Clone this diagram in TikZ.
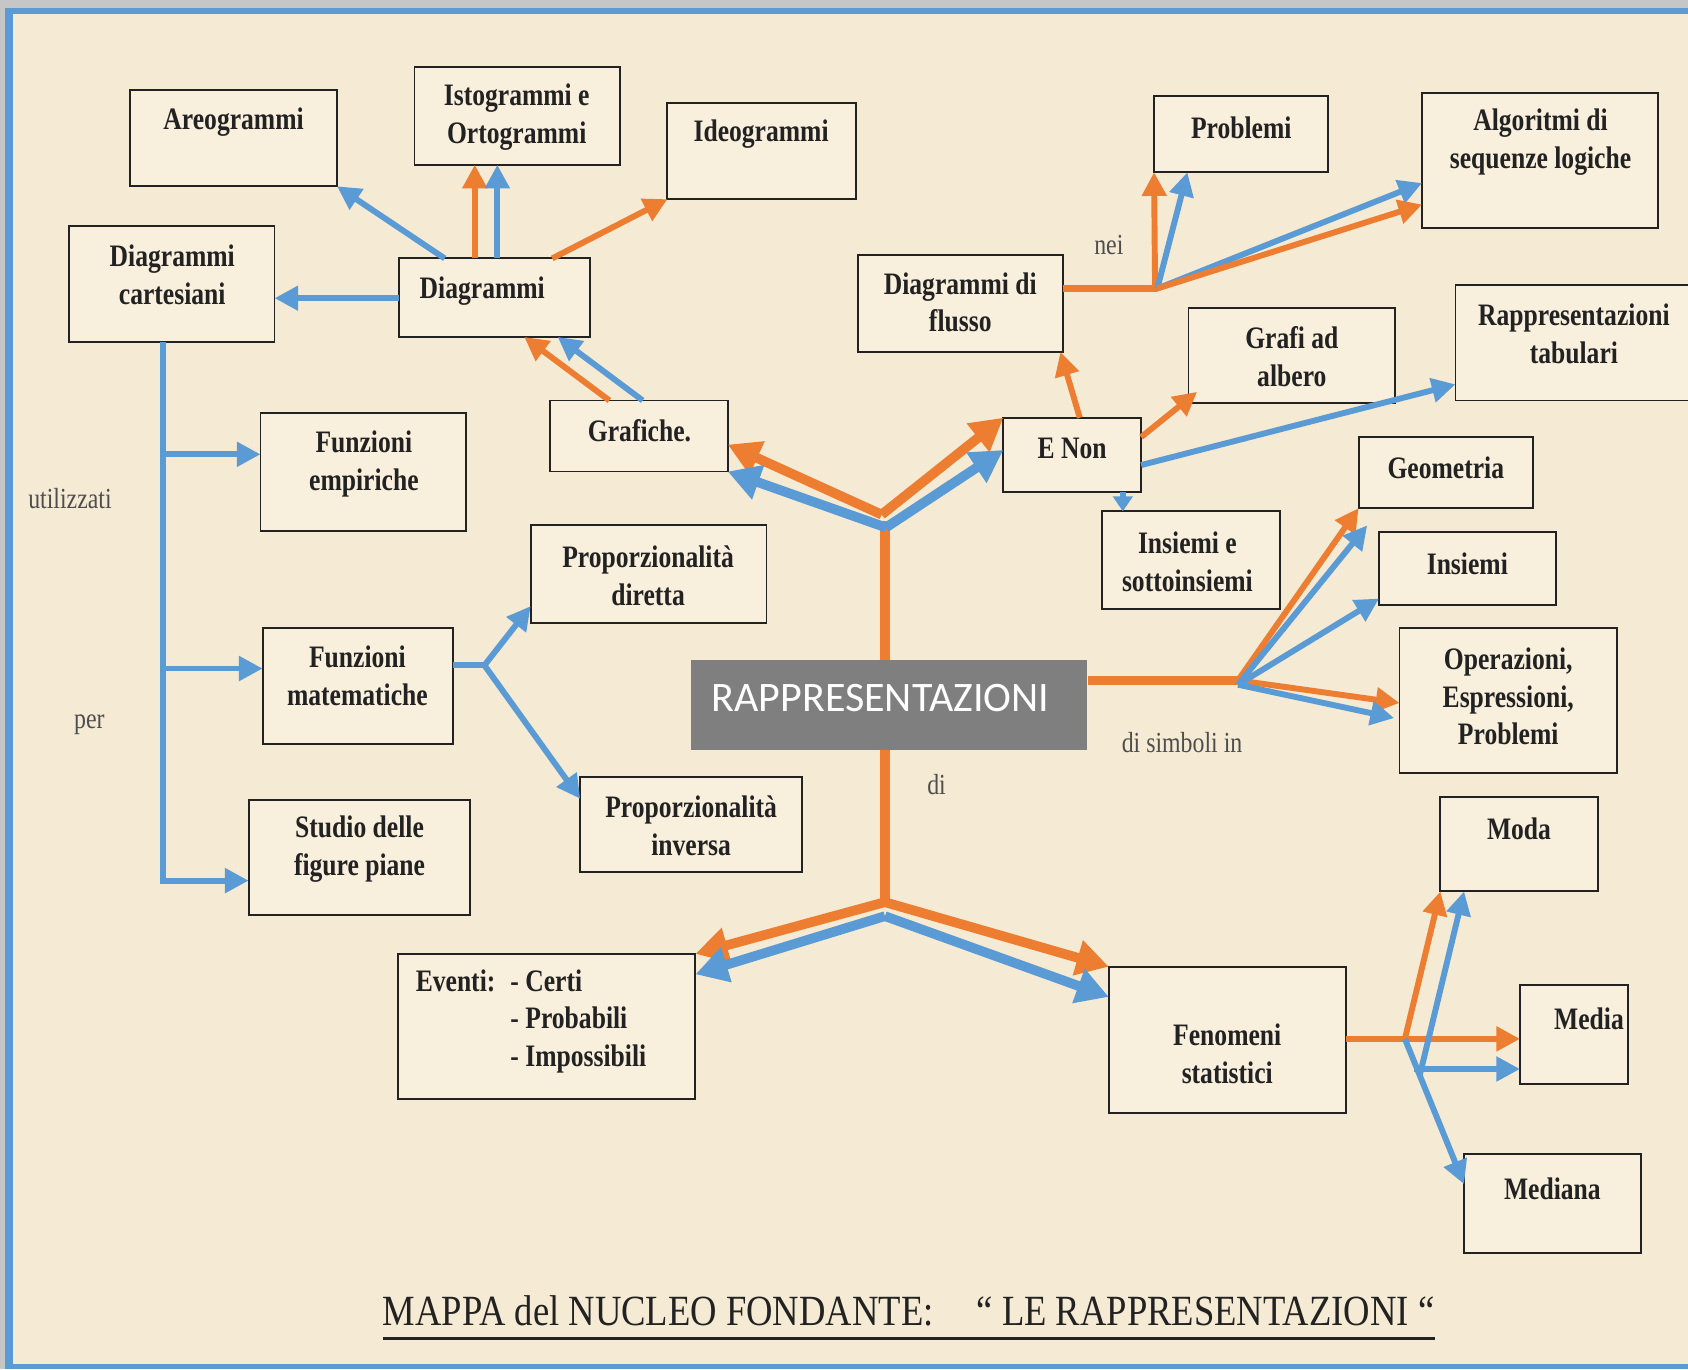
\documentclass[tikz,border=0pt]{standalone}
\usepackage{fontspec}
\setmainfont{Liberation Serif}
\newfontfamily\condfont[FakeStretch=0.82]{Liberation Serif}
\newfontfamily\titlefont[FakeStretch=0.85]{Liberation Serif}
\newfontfamily\calfont{Carlito}
\usetikzlibrary{arrows.meta,fit,calc}
\definecolor{paper}{HTML}{F5EAD3}
\definecolor{boxfill}{HTML}{F8EFDD}
\definecolor{orng}{HTML}{ED7D31}
\definecolor{blu}{HTML}{5B9BD5}
\definecolor{frameblue}{HTML}{5B9BD5}
\definecolor{framegray}{HTML}{C6C6C6}
\definecolor{ink}{HTML}{222222}
\definecolor{rappgray}{HTML}{7F7F7F}
\tikzset{
  box/.style={draw=ink, line width=1.8pt, fill=boxfill, inner sep=0pt, outer sep=0pt},
  lbl/.style={font=\condfont\bfseries\fontsize{29}{35}\selectfont, text=ink, align=center, inner sep=0pt},
  note/.style={font=\condfont\fontsize{27}{31}\selectfont, text=ink!80, inner sep=0pt},
  oa/.style={draw=orng, line width=5.5pt, -{Triangle[length=22pt,width=22pt]}},
  ba/.style={draw=blu, line width=5.5pt, -{Triangle[length=22pt,width=22pt]}},
  oabig/.style={draw=orng, line width=9pt, -{Triangle[length=30pt,width=32pt]}},
  babig/.style={draw=blu, line width=9pt, -{Triangle[length=30pt,width=32pt]}},
  oline/.style={draw=orng, line width=9pt},
  bline/.style={draw=blu, line width=5.5pt},
}
\begin{document}
\begin{tikzpicture}[x=1pt,y=-1pt]
\useasboundingbox (0,0) rectangle (1568,1272);
\clip (0,0) rectangle (1568,1272);
% frame and paper
\fill[framegray] (0,0) rectangle (1568,1272);
\fill[frameblue] (5,7) rectangle (1568,1272);
\fill[paper] (12,13) rectangle (1568,1267);

% central orange spine (behind the title box)
\coordinate (jt) at (819,478);
\coordinate (jtb) at (823,490);
\coordinate (jb) at (822,838);
\coordinate (jbb) at (822,851);
\draw[oline] (822,484) -- (822,842);

% boxes
\node[box, fit={(121,84)(313,173)}] (areo) {};
\node[box, fit={(385,62)(576,153)}] (istog) {};
\node[box, fit={(620,96)(795,185)}] (ideo) {};
\node[box, fit={(64,210)(255,318)}] (cart) {};
\node[box, fit={(371,240)(548,313)}] (diagr) {};
\node[box, fit={(511,372)(676,438)}] (graf) {};
\node[box, fit={(242,384)(433,493)}] (fempi) {};
\node[box, fit={(493,488)(712,579)}] (pdir) {};
\node[box, fit={(244,583)(421,691)}] (fmat) {};
\node[box, fit={(539,722)(745,810)}] (pinv) {};
\node[box, fit={(231,743)(437,850)}] (studio) {};
\node[box, fit={(370,886)(646,1021)}] (eventi) {};
\node[box, fit={(797,237)(987,327)}] (flusso) {};
\node[box, fit={(1072,89)(1234,160)}] (probl) {};
\node[box, fit={(1321,86)(1540,212)}] (algo) {};
\node[box, fit={(1104,286)(1296,374)}] (albero) {};
\node[box, fit={(1352,265)(1580,372)}] (tabul) {};
\node[box, fit={(932,388)(1060,457)}] (enon) {};
\node[box, fit={(1024,475)(1189,566)}] (insott) {};
\node[box, fit={(1262,406)(1424,472)}] (geom) {};
\node[box, fit={(1281,494)(1445,562)}] (ins) {};
\node[box, fit={(1300,583)(1502,718)}] (oper) {};
\node[box, fit={(1338,740)(1484,828)}] (moda) {};
\node[box, fit={(1412,915)(1512,1007)}] (media) {};
\node[box, fit={(1360,1072)(1524,1164)}] (mediana) {};
\node[box, fit={(1030,898)(1250,1034)}] (fenom) {};
\node[fill=rappgray, inner sep=0pt, fit={(642,613)(1010,697)}] (rapp) {};

% texts
\node[lbl] (tareo) at (217,113) {Areogrammi};
\node[lbl] (tistog) at (480,109) {Istogrammi e\\Ortogrammi};
\node[lbl] (tideo) at (707,125) {Ideogrammi};
\node[lbl] (tcart) at (160,255) {Diagrammi\\cartesiani};
\node[lbl] (tdiagr) at (448,270) {Diagrammi};
\node[lbl] (tgraf) at (594,400) {Grafiche.};
\node[lbl] (tfempi) at (338,431) {Funzioni\\empiriche};
\node[lbl] (tpdir) at (602,535) {Proporzionalità\\diretta};
\node[lbl] (tfmat) at (332,628) {Funzioni\\matematiche};
\node[lbl] (tpinv) at (642,767) {Proporzionalità\\inversa};
\node[lbl] (tstudio) at (334,789) {Studio delle\\figure piane};
\node[lbl, anchor=north west, align=left] (tev) at (386,896)
  {\begin{tabular}{@{}l@{\hspace{14pt}}l@{}}Eventi: & - Certi\\ & - Probabili\\ & - Impossibili\end{tabular}};
\node[lbl] (tflusso) at (892,281) {Diagrammi di\\flusso};
\node[lbl] (tprobl) at (1153,119) {Problemi};
\node[lbl] (talgo) at (1431,132) {Algoritmi di\\sequenze logiche};
\node[lbl] (talbero) at (1200,331) {Grafi ad\\albero};
\node[lbl] (ttabul) at (1462,310) {Rappresentazioni\\tabulari};
\node[lbl] (tenon) at (996,417) {E Non};
\node[lbl] (tinsott) at (1103,522) {Insiemi e\\sottoinsiemi};
\node[lbl] (tgeom) at (1343,435) {Geometria};
\node[lbl] (tins) at (1363,524) {Insiemi};
\node[lbl] (toper) at (1401,647) {Operazioni,\\Espressioni,\\Problemi};
\node[lbl] (tmoda) at (1411,770) {Moda};
\node[lbl] (tmedia) at (1476,946) {Media};
\node[lbl] (tmediana) at (1442,1104) {Mediana};
\node[lbl] (tfenom) at (1140,979) {Fenomeni\\statistici};
\node[font=\calfont\fontsize{39}{44}\selectfont, text=white, anchor=west, inner sep=0pt] (trapp) at (661,648) {RAPPRESENTAZIONI};

% notes
\node[note] (nutil) at (65,463) {utilizzati};
\node[note] (nper) at (83,673) {per};
\node[note] (nnei) at (1030,228) {nei};
\node[note] (nsimb) at (1098,690) {di simboli in};
\node[note] (ndi) at (870,729) {di};

% title
\node[font=\titlefont\fontsize{40}{46}\selectfont, text=ink, inner sep=0pt] (title) at (844,1218)
  {MAPPA del NUCLEO FONDANTE:\hspace{40pt}“ LE RAPPRESENTAZIONI “};
\draw[ink, line width=2.5pt] ($(title.base west)+(0,12)$) -- ($(title.base east)+(0,12)$);

% central arrows
\draw[oabig] (jt) -- (graf.east |- 0,413);
\draw[oabig] (jt) -- (enon.north west);
\draw[babig] (jtb) -- (graf.south east);
\draw[babig] (jtb) -- (enon.west |- 0,418);
\draw[oabig] (jb) -- (eventi.north east);
\draw[oabig] (jb) -- (fenom.north west);
\draw[babig] (jbb) -- (eventi.east |- 0,905);
\draw[babig] (jbb) -- (fenom.west |- 0,926);

% right branch (di simboli in)
\coordinate (jr) at (1150,632);
\coordinate (jr2) at (1150,636);
\draw[oline] (rapp.east |- jr) -- (jr);
\draw[oa] (jr) -- (geom.south west);
\draw[oa] (jr) -- (oper.west |- 0,653);
\draw[ba] (jr2) -- ($(ins.north west)+(-11,-6)$);
\draw[ba] (jr2) -- (ins.west |- 0,556);
\draw[ba] (jr2) -- ($(oper.west |- 0,667)+(-5,0)$);

% Diagrammi group
\draw[ba] (diagr.west |- 0,277) -- (cart.east |- 0,277);
\draw[ba] (diagr.north -| 413,0) -- (areo.south east);
\draw[oa] (diagr.north -| 441,0) -- (istog.south -| 441,0);
\draw[ba] (diagr.north -| 462,0) -- (istog.south -| 462,0);
\draw[oa] (diagr.north -| 513,0) -- (ideo.south west);
\draw[oa] (graf.north -| 566,0) -- (diagr.south -| 487,0);
\draw[ba] (graf.north -| 597,0) -- (diagr.south -| 518,0);

% Diagrammi cartesiani tree
\coordinate (c1) at (151,422);
\coordinate (c2) at (151,621);
\coordinate (c3) at (151,818);
\draw[ba, line join=miter] (cart.south -| 151,0) -- (c3) -- (studio.west |- c3);
\draw[ba] (c1) -- (fempi.west |- c1);
\draw[ba] (c2) -- (fmat.west |- c2);

% Funzioni matematiche
\coordinate (fm) at (450,618);
\draw[bline] (fmat.east |- fm) -- (fm);
\draw[ba] (fm) -- (pdir.west |- 0,563);
\draw[ba] (fm) -- (pinv.west |- 0,742);

% Diagrammi di flusso
\coordinate (jf) at (1075,268);
\draw[draw=orng, line width=6.5pt] (flusso.east |- jf) -- (jf);
\draw[oa] (1073,271) -- (probl.south west);
\draw[ba] (jf) -- (probl.south -| 1103,0);
\draw[ba] (jf) -- (algo.west |- 0,170);
\draw[oa] (jf) -- (algo.west |- 0,190);

% E Non
\draw[oa] (enon.north -| 1003,0) -- (flusso.south -| 985,0);
\draw[oa] (enon.east |- 0,406) -- ($(albero.south west)+(8,-10)$);
\draw[ba] (enon.east |- 0,432) -- (tabul.west |- 0,357);
\draw[draw=blu, line width=5pt, -{Triangle[length=14pt,width=18pt]}] (enon.south -| 1043,0) -- (insott.north -| 1043,0);

% Fenomeni statistici
\coordinate (jm) at (1305,965);
\coordinate (jm2) at (1313,993);
\coordinate (jm3) at (1319,998);
\draw[draw=orng, line width=5.5pt] (fenom.east |- jm) -- (jm);
\draw[oa] (jm) -- (media.west |- jm);
\draw[oa] (jm) -- (moda.south west);
\draw[ba] (jm) -- (mediana.west |- 0,1100);
\draw[ba] (jm2) -- (media.west |- jm2);
\draw[ba] (jm3) -- (moda.south -| 1360,0);
\end{tikzpicture}
\end{document}
